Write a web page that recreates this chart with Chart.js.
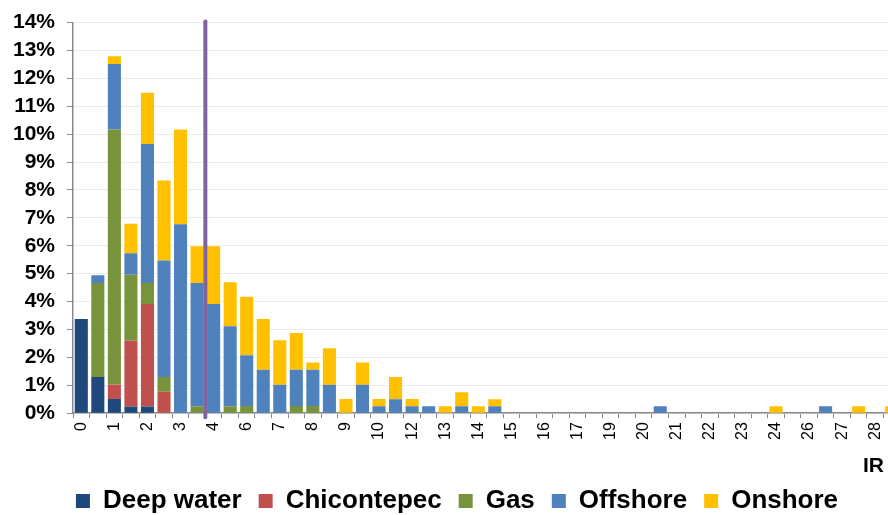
<!DOCTYPE html>
<html>
<head>
<meta charset="utf-8">
<script src="https://cdn.jsdelivr.net/npm/chart.js@4/dist/chart.umd.min.js"></script>
<style>
  html, body { margin: 0; padding: 0; background: #fff; overflow: hidden; }
  #wrap { width: 915px; height: 524px; position: relative; }
</style>
</head>
<body>
<div id="wrap"><canvas id="irChart"></canvas></div>
<script>
// tick labels shown under every other bar
const tickLabels = ['0', '1', '2', '3', '4', '6', '7', '8', '9', '10', '12', '13', '14',
    '15', '16', '17', '19', '20', '21', '22', '23', '24', '26', '27', '28'];
const categories = tickLabels.flatMap(t => [t, '']);

// share of fields per bin, in %
const deepWater = [3.38, 1.30, 0.51, 0.24, 0.24, 0, 0, 0, 0, 0,
    0, 0, 0, 0, 0, 0, 0, 0, 0, 0,
    0, 0, 0, 0, 0, 0, 0, 0, 0, 0,
    0, 0, 0, 0, 0, 0, 0, 0, 0, 0,
    0, 0, 0, 0, 0, 0, 0, 0, 0, 0];
const chicontepec = [0, 0, 0.52, 2.36, 3.67, 0.77, 0, 0, 0, 0,
    0, 0, 0, 0, 0, 0, 0, 0, 0, 0,
    0, 0, 0, 0, 0, 0, 0, 0, 0, 0,
    0, 0, 0, 0, 0, 0, 0, 0, 0, 0,
    0, 0, 0, 0, 0, 0, 0, 0, 0, 0];
const gas = [0, 3.37, 9.14, 2.36, 0.76, 0.53, 0, 0.25, 0, 0.25,
    0.26, 0, 0, 0.26, 0.26, 0, 0, 0, 0, 0,
    0, 0, 0, 0, 0, 0, 0, 0, 0, 0,
    0, 0, 0, 0, 0, 0, 0, 0, 0, 0,
    0, 0, 0, 0, 0, 0, 0, 0, 0, 0];
const offshore = [0, 0.27, 2.34, 0.77, 4.98, 4.17, 6.77, 4.42, 3.91, 2.87,
    1.82, 1.56, 1.02, 1.30, 1.30, 1.02, 0, 1.02, 0.25, 0.50,
    0.25, 0.25, 0, 0.25, 0, 0.25, 0, 0, 0, 0,
    0, 0, 0, 0, 0, 0.25, 0, 0, 0, 0,
    0, 0, 0, 0, 0, 0.25, 0, 0, 0, 0];
const onshore = [0, 0, 0.28, 1.06, 1.83, 2.87, 3.40, 1.31, 2.07, 1.57,
    2.09, 1.82, 1.59, 1.31, 0.26, 1.31, 0.51, 0.80, 0.26, 0.80,
    0.26, 0, 0.25, 0.50, 0.25, 0.25, 0, 0, 0, 0,
    0, 0, 0, 0, 0, 0, 0, 0, 0, 0,
    0, 0, 0.25, 0, 0, 0, 0, 0.25, 0, 0.25];

// marker sits between bin 7 and bin 8
const markerBins = [7, 8];

const FONT = '"Liberation Sans", Arial, sans-serif';

// Purple marker line + "IR" axis caption
const extrasPlugin = {
    id: 'extras',
    afterDatasetsDraw(chart) {
        const x = chart.scales.x;
        const area = chart.chartArea;
        const px = (x.getPixelForValue(markerBins[0]) + x.getPixelForValue(markerBins[1])) / 2;
        const ctx = chart.ctx;
        ctx.save();
        ctx.strokeStyle = '#8064A2';
        ctx.lineWidth = 4;
        ctx.lineCap = 'round';
        ctx.beginPath();
        ctx.moveTo(px, area.top - 1);
        ctx.lineTo(px, area.bottom + 4);
        ctx.stroke();
        ctx.restore();
    },
    afterDraw(chart) {
        const x = chart.scales.x;
        const ctx = chart.ctx;
        ctx.save();
        ctx.font = 'bold 21px ' + FONT;
        ctx.fillStyle = '#000';
        ctx.textAlign = 'right';
        ctx.textBaseline = 'middle';
        ctx.fillText('IR', 884, x.bottom - 5);
        ctx.restore();
    }
};

function makeSet(label, data, color) {
    return {
        label: label,
        data: data,
        backgroundColor: color,
        borderWidth: 0,
        barPercentage: 0.79,
        categoryPercentage: 1.0
    };
}

document.addEventListener('DOMContentLoaded', () => {
    const ctx = document.getElementById('irChart').getContext('2d');

    new Chart(ctx, {
        type: 'bar',
        data: {
            labels: categories,
            datasets: [
                makeSet('Deep water', deepWater, '#1F497D'),
                makeSet('Chicontepec', chicontepec, '#C0504D'),
                makeSet('Gas', gas, '#77933C'),
                makeSet('Offshore', offshore, '#4F81BD'),
                makeSet('Onshore', onshore, '#FFC000')
            ]
        },
        options: {
            responsive: true,
            maintainAspectRatio: false,
            animation: false,
            layout: { padding: { top: 5, left: 1, right: 2, bottom: 0 } },
            scales: {
                x: {
                    stacked: true,
                    grid: {
                        offset: true,
                        drawOnChartArea: false,
                        tickLength: 5,
                        tickColor: '#8a8a8a',
                        color: '#8a8a8a'
                    },
                    border: { color: '#8a8a8a', width: 1.5 },
                    ticks: {
                        autoSkip: false,
                        minRotation: 90,
                        maxRotation: 90,
                        padding: 4,
                        color: '#000',
                        font: { family: FONT, size: 16 }
                    },
                    afterFit(scale) { scale.height += 27; }
                },
                y: {
                    stacked: true,
                    min: 0,
                    max: 14,
                    grid: {
                        color: '#ececec',
                        tickColor: '#8a8a8a',
                        tickLength: 6
                    },
                    border: { color: '#8a8a8a', width: 1.5 },
                    ticks: {
                        stepSize: 1,
                        autoSkip: false,
                        padding: 12,
                        color: '#000',
                        font: { family: FONT, size: 21, weight: 'bold', lineHeight: 1 },
                        callback: v => v + '%'
                    }
                }
            },
            plugins: {
                legend: {
                    position: 'bottom',
                    labels: {
                        boxWidth: 14,
                        boxHeight: 14,
                        padding: 17,
                        color: '#000',
                        font: { family: FONT, size: 26, weight: 'bold' }
                    }
                },
                tooltip: { enabled: false }
            }
        },
        plugins: [extrasPlugin]
    });
});
</script>
</body>
</html>
